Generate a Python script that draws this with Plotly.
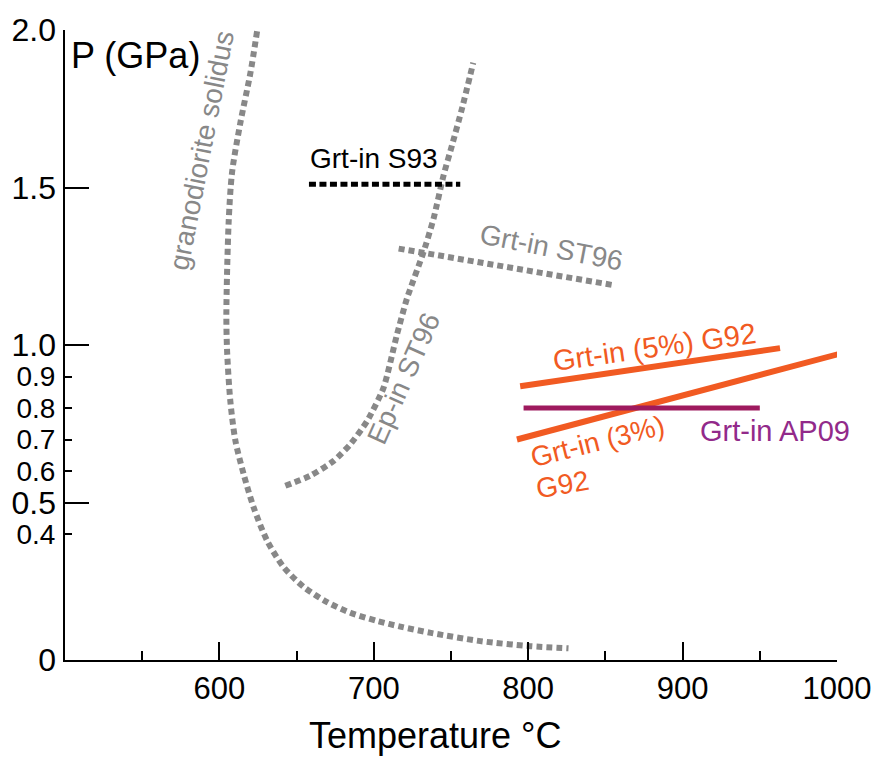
import plotly.graph_objects as go

# Phase boundaries: temperature (°C) and pressure (GPa)
solidus_T = [624.4, 620.1, 613.6, 608.2, 606.0, 604.5, 605.0, 607.1, 610.4, 615.7, 622.2,
             630.9, 641.6, 654.6, 669.7, 684.8, 702.1, 717.2, 737.0, 769.0, 801.3, 826.1]
solidus_P = [1.996, 1.864, 1.706, 1.548, 1.390, 1.096, 0.979, 0.821, 0.695, 0.590, 0.484,
             0.379, 0.295, 0.232, 0.184, 0.150, 0.124, 0.106, 0.086, 0.060, 0.044, 0.037]

ep_in_T = [642.7, 658.9, 674.0, 684.8, 695.6, 706.3, 715.0, 721.5, 732.2, 738.7, 745.2, 750.6, 757.3, 764.4]
ep_in_P = [0.553, 0.585, 0.632, 0.685, 0.758, 0.864, 1.033, 1.148, 1.295, 1.401, 1.539, 1.633, 1.754, 1.896]

grt_st96_T = [716.1, 855.2]
grt_st96_P = [1.306, 1.190]

grt_s93_T = [658, 756]
grt_s93_P = [1.51, 1.51]

grt_g92_5_T = [794.8, 963.1]
grt_g92_5_P = [0.869, 0.990]

grt_g92_3_T = [792.7, 1003.2]
grt_g92_3_P = [0.700, 0.974]

grt_ap09_T = [797, 950]
grt_ap09_P = [0.80, 0.80]

# Axis ticks
x_major = [600, 700, 800, 900, 1000]
x_minor = [550, 650, 750, 850, 950]
y_major = [0, 0.5, 1.0, 1.5, 2.0]
y_major_text = ["0", "0.5", "1.0", "1.5", "2.0"]
y_minor = [0.4, 0.6, 0.7, 0.8, 0.9]
y_minor_text = ["0.4", "0.6", "0.7", "0.8", "0.9"]

GRAY = "#888888"
ORANGE = "#f15a22"
PURPLE_LINE = "#9e1a5e"
PURPLE_TEXT = "#922a8a"
FONT = "Arial, Liberation Sans, sans-serif"
DOTS = "6px,4px"

fig = go.Figure()

fig.add_trace(go.Scatter(x=solidus_T, y=solidus_P, mode="lines", yaxis="y2",
                         line=dict(color=GRAY, width=6, dash=DOTS, shape="spline", smoothing=0.8)))
fig.add_trace(go.Scatter(x=ep_in_T, y=ep_in_P, mode="lines",
                         line=dict(color=GRAY, width=6, dash=DOTS, shape="spline", smoothing=0.6)))
fig.add_trace(go.Scatter(x=grt_st96_T, y=grt_st96_P, mode="lines",
                         line=dict(color=GRAY, width=6, dash=DOTS)))
fig.add_trace(go.Scatter(x=grt_s93_T, y=grt_s93_P, mode="lines",
                         line=dict(color="black", width=5, dash="7px,3.5px")))
fig.add_trace(go.Scatter(x=grt_g92_5_T, y=grt_g92_5_P, mode="lines",
                         line=dict(color=ORANGE, width=6)))
fig.add_trace(go.Scatter(x=grt_g92_3_T, y=grt_g92_3_P, mode="lines",
                         line=dict(color=ORANGE, width=6)))
fig.add_trace(go.Scatter(x=grt_ap09_T, y=grt_ap09_P, mode="lines",
                         line=dict(color=PURPLE_LINE, width=5)))

labels = [
    dict(text="granodiorite solidus", x=588.4, y=1.618, textangle=-79, color=GRAY, size=28),
    dict(text="Ep-in ST96", x=719.5, y=0.893, textangle=-66, color=GRAY, size=28),
    dict(text="Grt-in ST96", x=815.0, y=1.311, textangle=11, color=GRAY, size=28),
    dict(text="Grt-in S93", x=700.3, y=1.591, textangle=0, color="black", size=28),
    dict(text="Grt-in (5%) G92", x=881.6, y=0.995, textangle=-8, color=ORANGE, size=29),
    dict(text="Grt-in (3%)", x=844.7, y=0.695, textangle=-14, color=ORANGE, size=28),
    dict(text="G92", x=822.3, y=0.558, textangle=-10, color=ORANGE, size=28),
    dict(text="Grt-in AP09", x=960.0, y=0.727, textangle=0, color=PURPLE_TEXT, size=29),
]
for lb in labels:
    fig.add_annotation(x=lb["x"], y=lb["y"], xref="x", yref="y", text=lb["text"],
                       textangle=lb["textangle"], showarrow=False,
                       xanchor="center", yanchor="middle",
                       font=dict(family=FONT, size=lb["size"], color=lb["color"]))

fig.add_annotation(x=0.0058, y=0.959, xref="paper", yref="paper", text="P (GPa)",
                   showarrow=False, xanchor="left", yanchor="middle",
                   font=dict(family=FONT, size=36, color="black"))
fig.add_annotation(x=0.4796, y=-0.1548, xref="paper", yref="paper", text="Temperature °C",
                   showarrow=False, xanchor="center", yanchor="bottom",
                   font=dict(family=FONT, size=36, color="black"))

fig.update_layout(
    width=885, height=758,
    margin=dict(l=65, r=48, t=27, b=98),
    paper_bgcolor="white", plot_bgcolor="white",
    showlegend=False,
    font=dict(family=FONT, color="black"),
    xaxis=dict(range=[500, 1000], showgrid=False, zeroline=False,
               showline=True, linecolor="black", linewidth=2,
               tickmode="array", tickvals=x_major, ticks="inside", ticklen=18,
               tickwidth=2, tickcolor="black", tickfont=dict(size=31),
               ticklabelstandoff=0,
               minor=dict(tickmode="array", tickvals=x_minor, ticks="inside",
                          ticklen=9, tickwidth=1.5, tickcolor="black")),
    yaxis=dict(range=[0, 2.0], showgrid=False, zeroline=False,
               showline=True, linecolor="black", linewidth=2,
               tickmode="array", tickvals=y_minor, ticktext=y_minor_text,
               ticks="inside", ticklen=7, tickwidth=1.5, tickcolor="black",
               tickfont=dict(size=28), ticklabelstandoff=2),
    yaxis2=dict(range=[0, 2.0], overlaying="y", side="left", anchor="x",
                showgrid=False, zeroline=False, showline=False,
                tickmode="array", tickvals=y_major, ticktext=y_major_text,
                ticks="inside", ticklen=24, tickwidth=2, tickcolor="black",
                tickfont=dict(size=32), ticklabelstandoff=8),
)

fig.write_html("out.html")
